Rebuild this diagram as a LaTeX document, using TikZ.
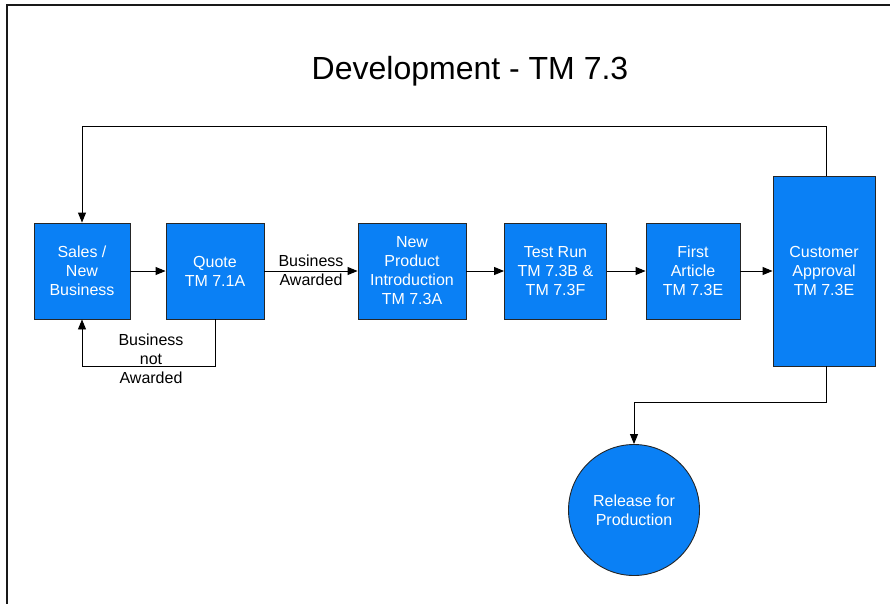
\documentclass[tikz,border=0pt]{standalone}
\usepackage{fontspec}
\setmainfont{Liberation Sans}
\usetikzlibrary{arrows.meta,calc}
\definecolor{procblue}{RGB}{10,128,245}
\tikzset{
  procbox/.style={draw=black!85, line width=0.9pt, fill=procblue, text=white,
    inner sep=0pt, align=center, font=\fontsize{16}{19}\selectfont},
  endcircle/.style={procbox, circle},
  flow/.style={draw=black, line width=0.9pt, -{Triangle[length=10pt,width=8pt]}},
  lbl/.style={inner sep=0pt, align=center, font=\fontsize{16}{19}\selectfont},
}
\begin{document}
\begin{tikzpicture}[x=1pt,y=-1pt]
\useasboundingbox (0,0) rectangle (890,603);
\clip (0,0) rectangle (890,603);
% outer frame
\draw[line width=2pt, draw=black!90] (7,5) rectangle (905,620);
% title
\node[lbl, font=\fontsize{32}{36}\selectfont] (title) at (470,71) {Development - TM 7.3};
% process boxes
\node[procbox, minimum width=96, minimum height=96] (sales) at (82,271) {Sales /\\New\\Business};
\node[procbox, minimum width=98, minimum height=96] (quote) at (215,271) {Quote\\TM 7.1A};
\node[procbox, minimum width=108, minimum height=96] (npi) at (412,271) {New\\Product\\Introduction\\TM 7.3A};
\node[procbox, minimum width=102, minimum height=96] (test) at (555.5,271) {Test Run\\TM 7.3B \&\\TM 7.3F};
\node[procbox, minimum width=94, minimum height=96] (first) at (693,271) {First\\Article\\TM 7.3E};
\node[procbox, minimum width=102, minimum height=190] (cust) at (824,271) {Customer\\Approval\\TM 7.3E};
\node[endcircle, minimum size=131] (rel) at (634,510) {Release for\\Production};
% main flow
\draw[flow] (sales) -- (quote);
\draw[flow] (quote) -- (npi);
\draw[flow] (npi) -- (test);
\draw[flow] (test) -- (first);
\draw[flow] (first) -- (cust);
\node[lbl] (awarded) at (311,270) {Business\\Awarded};
% rejected quote returns to sales
\coordinate (nbl) at (215,366);
\draw[flow] (quote.south) -- (nbl) -| (sales.south);
\node[lbl] (notawarded) at (151,359) {Business\\not\\Awarded};
% loop back from customer approval to sales
\coordinate (topr) at (826,126);
\draw[flow] ([xshift=2pt]cust.north) -- (topr) -| (sales.north);
% release for production
\coordinate (relr) at (826,402);
\draw[flow] ([xshift=2pt]cust.south) -- (relr) -| (rel.north);
\end{tikzpicture}
\end{document}
